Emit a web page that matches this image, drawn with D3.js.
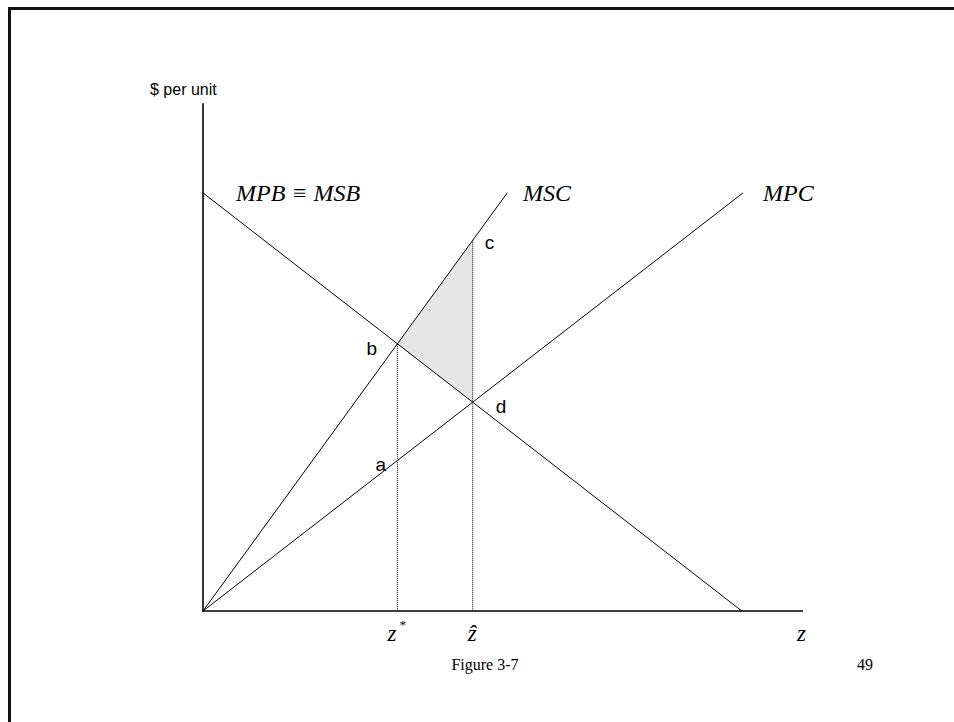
<!DOCTYPE html>
<html lang="en">
<head>
    <meta charset="UTF-8">
    <title>Figure 3-7</title>
    <script src="https://d3js.org/d3.v7.min.js"></script>
    <style>
        body { margin: 0; background: white; }
        .sans { font-family: "Liberation Sans", Arial, sans-serif; }
        .serif { font-family: "Liberation Serif", "Times New Roman", serif; }
    </style>
</head>
<body>
    <div id="chart"></div>

    <script>
        // curve data (quantity, $ per unit)
        const curveNames = ["MPB \u2261 MSB", "MSC", "MPC"];
        const curveStart = [[0, 9], [0, 0], [0, 0]];
        const curveEnd = [[8.98, 0], [5.07, 9], [9.0, 9]];
        const axisMax = { x: 10, y: 10.93 };

        function intersect(a, b) {
            const [p1, p2] = a, [p3, p4] = b;
            const s1 = (p2[1] - p1[1]) / (p2[0] - p1[0]);
            const s2 = (p4[1] - p3[1]) / (p4[0] - p3[0]);
            const i1 = p1[1] - s1 * p1[0], i2 = p3[1] - s2 * p3[0];
            const xx = (i2 - i1) / (s1 - s2);
            return [xx, i1 + s1 * xx];
        }
        function valueAt(seg, xx) {
            const [p1, p2] = seg;
            return p1[1] + (p2[1] - p1[1]) * (xx - p1[0]) / (p2[0] - p1[0]);
        }

        const W = 954, H = 722;
        const svg = d3.select("#chart").append("svg")
            .attr("width", W).attr("height", H);

        // slide frame
        svg.append("rect")
            .attr("x", 9.5).attr("y", 8.5)
            .attr("width", W + 20).attr("height", H + 20)
            .attr("fill", "none").attr("stroke", "#111").attr("stroke-width", 3);

        const x = d3.scaleLinear().domain([0, 10]).range([203, 803]);
        const y = d3.scaleLinear().domain([0, 11]).range([611, 100]);

        const segs = curveNames.map((n, i) => [curveStart[i], curveEnd[i]]);
        const b = intersect(segs[0], segs[1]);
        const d = intersect(segs[0], segs[2]);
        const c = [d[0], valueAt(segs[1], d[0])];
        const a = [b[0], valueAt(segs[2], b[0])];

        // shaded triangle
        svg.append("path")
            .attr("d", d3.line().x(p => x(p[0])).y(p => y(p[1]))([b, c, d]) + "Z")
            .attr("fill", "#e6e6e6");

        // dotted guides
        [b, c].forEach(p => {
            svg.append("line")
                .attr("x1", x(p[0])).attr("x2", x(p[0]))
                .attr("y1", y(p[1])).attr("y2", y(0))
                .attr("stroke", "#000").attr("stroke-width", 1)
                .attr("stroke-dasharray", "1,1");
        });

        // curves
        svg.selectAll("line.curve")
            .data(segs)
            .join("line")
            .attr("class", "curve")
            .attr("x1", s => x(s[0][0])).attr("y1", s => y(s[0][1]))
            .attr("x2", s => x(s[1][0])).attr("y2", s => y(s[1][1]))
            .attr("stroke", "#000").attr("stroke-width", 1);

        // axes
        svg.append("line")
            .attr("x1", x(0)).attr("x2", x(0))
            .attr("y1", y(0) + 1).attr("y2", y(axisMax.y))
            .attr("stroke", "#000").attr("stroke-width", 1.6);
        svg.append("line")
            .attr("x1", x(0)).attr("x2", x(axisMax.x))
            .attr("y1", y(0)).attr("y2", y(0))
            .attr("stroke", "#000").attr("stroke-width", 1.6);

        svg.append("text").attr("class", "sans")
            .attr("x", x(0) - 53).attr("y", y(axisMax.y) - 8)
            .attr("font-size", 16).text("$ per unit");

        // curve labels
        const labelX = [236, 523, 763];
        svg.selectAll("text.curve-label")
            .data(curveNames)
            .join("text")
            .attr("class", "serif curve-label")
            .attr("x", (n, i) => labelX[i])
            .attr("y", y(9) + 8)
            .attr("font-size", 24).attr("font-style", "italic")
            .text(n => n);

        // point labels
        const pts = [
            { t: "a", p: a, dx: -22, dy: 11 },
            { t: "b", p: b, dx: -31, dy: 11 },
            { t: "c", p: c, dx: 12, dy: 9 },
            { t: "d", p: d, dx: 23, dy: 11 }
        ];
        svg.selectAll("text.pt")
            .data(pts)
            .join("text")
            .attr("class", "sans pt")
            .attr("x", q => x(q.p[0]) + q.dx)
            .attr("y", q => y(q.p[1]) + q.dy)
            .attr("font-size", 19)
            .text(q => q.t);

        // quantity labels
        const zl = svg.append("g").attr("class", "serif").attr("font-style", "italic").attr("font-size", 23);
        zl.append("text").attr("x", x(b[0]) - 10).attr("y", y(0) + 30).text("z");
        zl.append("text").attr("x", x(b[0]) + 2).attr("y", y(0) + 18)
            .attr("font-size", 13).attr("font-style", "normal").text("*");
        zl.append("text").attr("x", x(d[0]) - 5).attr("y", y(0) + 30).text("z\u0302");
        zl.append("text").attr("x", x(axisMax.x) - 6).attr("y", y(0) + 30).text("z");

        svg.append("text").attr("class", "serif")
            .attr("x", 485).attr("y", 670).attr("text-anchor", "middle")
            .attr("font-size", 16).text("Figure 3-7");
        svg.append("text").attr("class", "serif")
            .attr("x", 865).attr("y", 670).attr("text-anchor", "middle")
            .attr("font-size", 16).text("49");
    </script>
</body>
</html>
